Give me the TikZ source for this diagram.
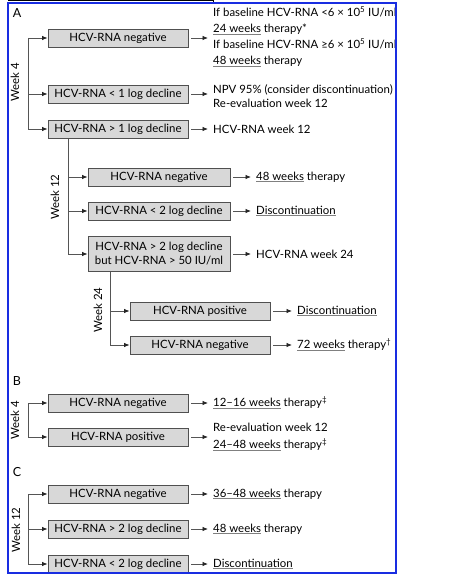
\documentclass[tikz,border=0pt]{standalone}
\usepackage{fontspec}
\setmainfont{Lato}
\usetikzlibrary{arrows.meta}
\definecolor{frameblue}{RGB}{25,45,225}
\definecolor{boxfill}{RGB}{216,216,216}
\definecolor{boxline}{RGB}{80,80,80}
\definecolor{connc}{RGB}{85,85,85}
\newcommand{\ulx}[1]{{\color{gray}\underline{\color{black}#1}}}
\begin{document}
\begin{tikzpicture}[x=1pt,y=-1pt,
  box/.style={draw=boxline, fill=boxfill, line width=0.9pt, minimum width=140pt,
    minimum height=18pt, inner sep=1pt, align=center, font=\fontsize{11.4}{14}\selectfont},
  txt/.style={anchor=west, inner sep=0pt, align=left, font=\fontsize{11.4}{14}\selectfont},
  conn/.style={draw=connc, line width=0.8pt},
  arr/.style={conn, -{Latex[length=5.5pt,width=4.5pt,color=black!85]}},
  rarr/.style={arr, shorten <=3pt, shorten >=5pt},
  wk/.style={rotate=90, inner sep=0pt, font=\fontsize{11.4}{13}\selectfont},
  sec/.style={inner sep=0pt, font=\fontsize{12.5}{14}\selectfont}]
\useasboundingbox (0,0) rectangle (470,583);
\fill[white] (0,0) rectangle (470,583);
% top artifact line
\draw[black, line width=0.6pt] (8,0.4) -- (213,0.4) -- (213,3);

\begin{scope}
\clip (8,3) rectangle (396,573);
% ---------- Section A ----------
\node[sec] (secA) at (17,13) {A};
\node[box] (A1) at (118,38) {HCV-RNA negative};
\node[box] (A2) at (118,94) {HCV-RNA < 1 log decline};
\node[box] (A3) at (118,129) {HCV-RNA > 1 log decline};
\node[wk] (wA4) at (15,82) {Week 4};
\coordinate (bA) at (28,38);
\draw[arr] (bA) -- (A1.west);
\draw[arr] (bA|-A2) -- (A2.west);
\draw[arr] (bA) |- (A3.west);

\node[txt, font=\fontsize{11.4}{16}\selectfont] (T1) at (213,37)
  {If baseline HCV-RNA <6 × 10\textsuperscript{5} IU/ml\\
   \ulx{24 weeks} therapy*\\
   If baseline HCV-RNA ≥6 × 10\textsuperscript{5} IU/ml\\
   \ulx{48 weeks} therapy};
\node[txt] (T2) at (213,96) {NPV 95\% (consider discontinuation)\\Re-evaluation week 12};
\node[txt] (T3) at (213,129) {HCV-RNA week 12};
\draw[rarr] (A1.east) -- (A1.east -| T1.west);
\draw[rarr] (A2.east) -- (A2.east -| T2.west);
\draw[rarr] (A3.east) -- (A3.east -| T3.west);

% week 12
\node[box, minimum width=142pt] (A4) at (159,177) {HCV-RNA negative};
\node[box, minimum width=142pt] (A5) at (159,211) {HCV-RNA < 2 log decline};
\node[box, minimum width=142pt, minimum height=35pt] (A6) at (159,254)
  {HCV-RNA > 2 log decline\\but HCV-RNA > 50 IU/ml};
\node[wk] (wA12) at (55,197) {Week 12};
\coordinate (bA12) at (68,138.5);
\draw[arr] (bA12|-A4) -- (A4.west);
\draw[arr] (bA12|-A5) -- (A5.west);
\draw[arr] (bA12) |- (A6.west);
\node[txt] (T4) at (256,177) {\ulx{48 weeks} therapy};
\node[txt] (T5) at (256,211) {\ulx{Discontinuation}};
\node[txt] (T6) at (256,254) {HCV-RNA week 24};
\draw[rarr] (A4.east) -- (A4.east -| T4.west);
\draw[rarr] (A5.east) -- (A5.east -| T5.west);
\draw[rarr] (A6.east) -- (A6.east -| T6.west);

% week 24
\node[box] (A7) at (200,311) {HCV-RNA positive};
\node[box] (A8) at (200,345) {HCV-RNA negative};
\node[wk] (wA24) at (98,310) {Week 24};
\coordinate (bA24) at (110,272);
\draw[arr] (bA24|-A7) -- (A7.west);
\draw[arr] (bA24) |- (A8.west);
\node[txt] (T7) at (297,311) {\ulx{Discontinuation}};
\node[txt] (T8) at (297,345) {\ulx{72 weeks} therapy\textsuperscript{†}};
\draw[rarr] (A7.east) -- (A7.east -| T7.west);
\draw[rarr] (A8.east) -- (A8.east -| T8.west);

% ---------- Section B ----------
\node[sec] (secB) at (17,381) {B};
\node[box] (B1) at (118,403) {HCV-RNA negative};
\node[box] (B2) at (118,437) {HCV-RNA positive};
\node[wk] (wB4) at (15,420) {Week 4};
\coordinate (bB) at (28,403);
\draw[arr] (bB) -- (B1.west);
\draw[arr] (bB) |- (B2.west);
\node[txt] (TB1) at (213,403) {\ulx{12–16 weeks} therapy\textsuperscript{‡}};
\node[txt, font=\fontsize{11.4}{17}\selectfont] (TB2) at (213,437)
  {Re-evaluation week 12\\\ulx{24–48 weeks} therapy\textsuperscript{‡}};
\draw[rarr] (B1.east) -- (B1.east -| TB1.west);
\draw[rarr] (B2.east) -- (B2.east -| TB2.west);

% ---------- Section C ----------
\node[sec] (secC) at (17,472) {C};
\node[box] (C1) at (118,494) {HCV-RNA negative};
\node[box] (C2) at (118,529) {HCV-RNA > 2 log decline};
\node[box] (C3) at (118,564) {HCV-RNA < 2 log decline};
\node[wk] (wC12) at (16,530) {Week 12};
\coordinate (bC) at (28,494);
\draw[arr] (bC) -- (C1.west);
\draw[arr] (bC|-C2) -- (C2.west);
\draw[arr] (bC) |- (C3.west);
\node[txt] (TC1) at (213,494) {\ulx{36–48 weeks} therapy};
\node[txt] (TC2) at (213,529) {\ulx{48 weeks} therapy};
\node[txt] (TC3) at (213,564) {\ulx{Discontinuation}};
\draw[rarr] (C1.east) -- (C1.east -| TC1.west);
\draw[rarr] (C2.east) -- (C2.east -| TC2.west);
\draw[rarr] (C3.east) -- (C3.east -| TC3.west);
\end{scope}

% frame
\draw[frameblue, line width=1.2pt] (8,3) rectangle (396,573);
\end{tikzpicture}
\end{document}
